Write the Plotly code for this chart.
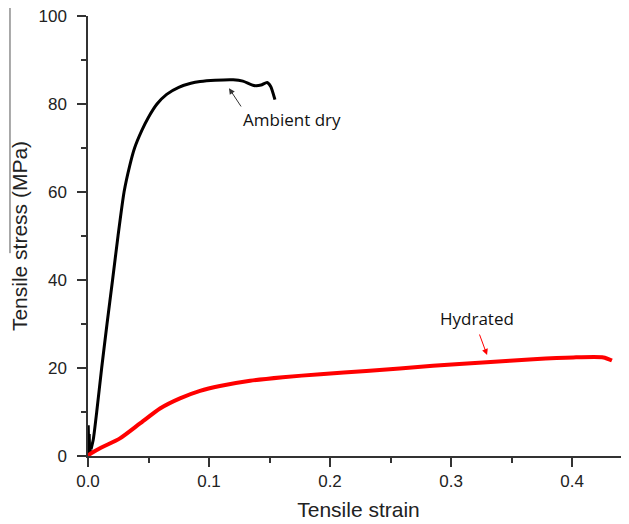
import plotly.graph_objects as go

# Ambient dry (black) curve: initial noisy start, then main curve
dry_start_strain = [0, 0.0006, 0.0010, 0.0014, 0.0018, 0.0025]
dry_start_stress = [0, 7, 1.5, 5, 0.5, 1.5]
dry_strain = [0.0025, 0.0045, 0.0072, 0.0113, 0.0157, 0.0203, 0.0248, 0.0298, 0.0345,
              0.0385, 0.0445, 0.0500, 0.0570, 0.0650, 0.0750, 0.0850,
              0.0926, 0.105, 0.12, 0.128, 0.137, 0.143, 0.148, 0.151, 0.1545]
dry_stress = [1.5, 4, 10, 20, 30, 40, 50, 60, 66,
              70, 74, 77, 80, 82.2, 83.8, 84.7,
              85.1, 85.4, 85.5, 85.2, 84.2, 84.3, 84.9, 84.0, 81.0]

# Hydrated (red) curve
hyd_strain = [0, 0.001, 0.0099, 0.0264, 0.043, 0.0595, 0.076, 0.0926, 0.109, 0.134,
              0.161, 0.192, 0.230, 0.285, 0.3295, 0.368, 0.401, 0.426, 0.433]
hyd_stress = [0, 0.3, 1.75, 4.0, 7.4, 10.8, 13.1, 14.8, 15.9, 17.1,
              17.9, 18.6, 19.3, 20.5, 21.3, 22.0, 22.4, 22.4, 21.7]

x_ticks = [0.0, 0.1, 0.2, 0.3, 0.4]
x_tick_labels = ["0.0", "0.1", "0.2", "0.3", "0.4"]
y_ticks = [0, 20, 40, 60, 80, 100]

FONT = "Liberation Sans, Arial, sans-serif"
ANNOT_FONT = "Open Sans, Lato, sans-serif"

fig = go.Figure()
fig.add_trace(go.Scatter(x=dry_start_strain, y=dry_start_stress, mode="lines",
                         line=dict(color="black", width=2),
                         showlegend=False))
fig.add_trace(go.Scatter(x=dry_strain, y=dry_stress, mode="lines",
                         line=dict(color="black", width=3, shape="spline", smoothing=0.6),
                         name="Ambient dry", showlegend=False))
fig.add_trace(go.Scatter(x=hyd_strain, y=hyd_stress, mode="lines",
                         line=dict(color="#ff0000", width=4, shape="spline", smoothing=0.6),
                         name="Hydrated", showlegend=False))

axis_col = "#333333"
fig.update_xaxes(range=[0, 0.4471], tickvals=x_ticks, ticktext=x_tick_labels,
                 automargin=False, ticklabeloverflow="allow",
                 showline=True, linecolor=axis_col, linewidth=1.5,
                 ticks="outside", ticklen=9, tickwidth=1.5, tickcolor=axis_col,
                 minor=dict(ticks="outside", ticklen=5, tickwidth=1.5, tickcolor=axis_col, dtick=0.05, tick0=0),
                 showgrid=False, zeroline=False,
                 tickfont=dict(family=FONT, size=17, color="#222"),
                 title=dict(text="Tensile strain", font=dict(family=FONT, size=21, color="#222"), standoff=12))
fig.update_yaxes(range=[0, 100], tickvals=y_ticks,
                 automargin=False, ticklabeloverflow="allow",
                 showline=True, linecolor=axis_col, linewidth=1.5,
                 ticks="outside", ticklen=9, tickwidth=1.5, tickcolor=axis_col,
                 minor=dict(ticks="outside", ticklen=5, tickwidth=1.5, tickcolor=axis_col, dtick=10, tick0=0),
                 showgrid=False, zeroline=False, ticklabelstandoff=7,
                 tickfont=dict(family=FONT, size=17, color="#222"),
                 title=dict(text="Tensile stress (MPa)", font=dict(family=FONT, size=21, color="#222"), standoff=16))

# Labels
fig.add_annotation(x=0.1685, y=76.5, text="Ambient dry", showarrow=False,
                   font=dict(family=ANNOT_FONT, size=17, color="#111"))
fig.add_annotation(x=0.3215, y=31.3, text="Hydrated", showarrow=False,
                   font=dict(family=ANNOT_FONT, size=17, color="#111"))
# Arrows
fig.add_annotation(x=0.1165, y=83.6, ax=0.1273, ay=79.1, axref="x", ayref="y",
                   text="", showarrow=True, arrowhead=2, arrowsize=1.2, arrowwidth=1,
                   arrowcolor="#333")
fig.add_annotation(x=0.3298, y=22.95, ax=0.3231, ay=27.95, axref="x", ayref="y",
                   text="", showarrow=True, arrowhead=2, arrowsize=1.2, arrowwidth=1,
                   arrowcolor="#ff0000")

# left edge crop line
fig.add_shape(type="line", xref="paper", yref="paper",
              x0=-0.1442, x1=-0.1442, y0=0.461, y1=1.06,
              line=dict(color="#555", width=1))

# page body has an 8px margin, so the figure is 621x516 placed at (8, 8)
fig.update_layout(width=621, height=516,
                  margin=dict(l=80, r=0, t=8, b=68),
                  plot_bgcolor="white", paper_bgcolor="white")

fig.write_html("out.html")
